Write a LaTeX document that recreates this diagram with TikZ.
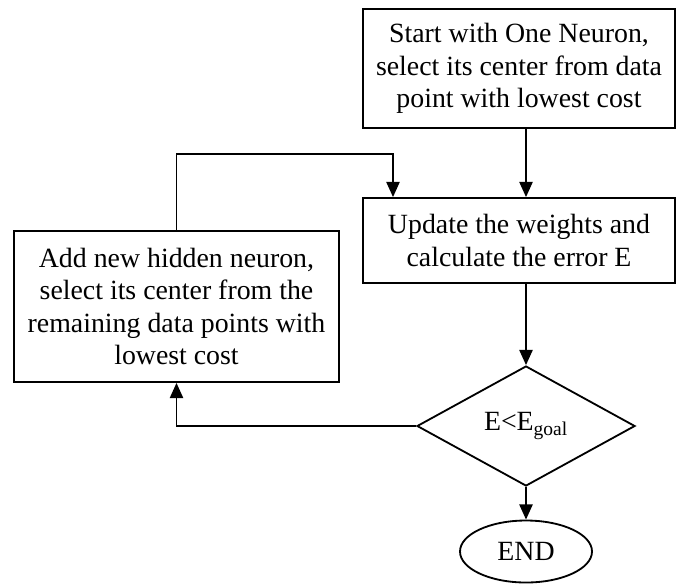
\documentclass[tikz,border=0pt]{standalone}
\usepackage{fontspec}
\setmainfont{Liberation Serif}
\usetikzlibrary{shapes.geometric,arrows.meta}

\begin{document}
\begin{tikzpicture}[
				line width=1.3pt,
				every node/.style = {font=\fontsize{19.8}{23}\selectfont, align=center, inner sep=0pt},
				stepbox/.style = {draw, rectangle},
				test/.style = {draw, diamond, minimum width=5.45cm, minimum height=3cm, aspect=1.8},
				stop/.style = {draw, ellipse, minimum width=3.3cm, minimum height=1.55cm},
				arr/.style = {-{Triangle[length=0.38cm, width=0.33cm]}},
			]
			\useasboundingbox (0,0) rectangle (16.9,-14.6);
			\node[stepbox, minimum width=7.8cm, minimum height=2.975cm] (start) at (12.975,-1.7125) {Start with One Neuron,\\ select its center from data\\ point with lowest cost};
			\node[stepbox, minimum width=7.8cm, minimum height=2.125cm] (upd) at (12.975,-6.0125) {Update the weights and\\ calculate the error E};
			\node[stepbox, minimum width=8.125cm, minimum height=3.775cm] (add) at (4.4125,-7.6625) {Add new hidden neuron,\\ select its center from the\\ remaining data points with\\ lowest cost};
			\node[test] (dec) at (13.15,-10.65) {E<E\textsubscript{goal}};
			\node[stop] (end) at (13.15,-13.7875) {END};
			\coordinate (loop) at (9.825,-3.85);
			% main line
			\draw[arr] (start.south -| dec.north) -- (upd.north -| dec.north);
			\draw[arr] (upd.south -| dec.north) -- (dec.north);
			\draw[arr] (dec.south) -- (end.north);
			% back loop
			\draw[arr] (dec.west) -| (add.south);
			\draw[arr] (add.north) |- (loop) -- (loop |- upd.north);
		\end{tikzpicture}
\end{document}
